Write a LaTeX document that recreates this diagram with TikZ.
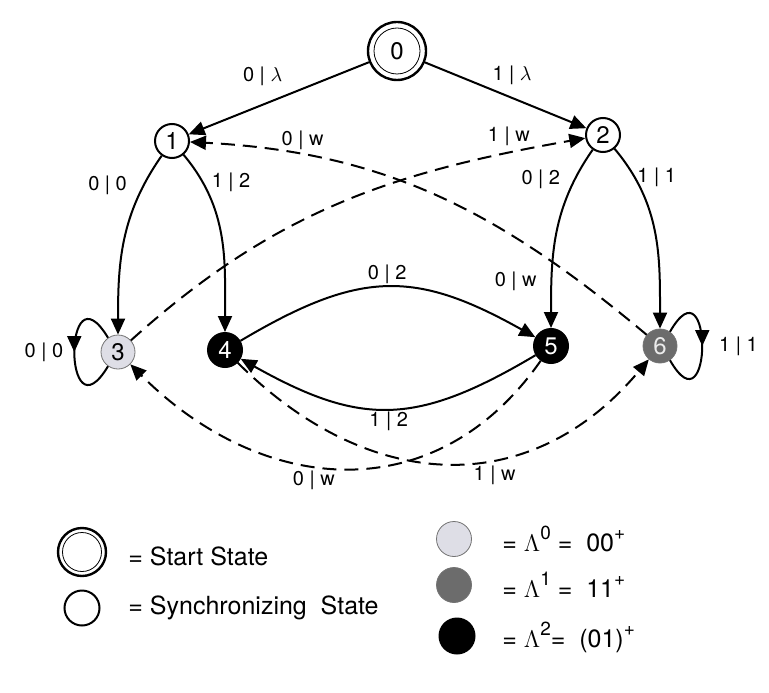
\documentclass[tikz,border=0pt]{standalone}
\usepackage{fontspec}
\setmainfont{TeX Gyre Heros}
\usetikzlibrary{arrows.meta, decorations.markings}
\definecolor{lamzero}{RGB}{222,222,230}
\definecolor{lamone}{RGB}{108,108,108}
\newcommand{\hisup}[1]{\raisebox{6pt}{\fontsize{9.5}{9.5}\selectfont #1}}

\begin{document}
\begin{tikzpicture}[
    x=0.5pt, y=0.5pt,
    syncstate/.style={circle, draw, line width=1pt, fill=white, minimum size=17pt,
                      inner sep=0pt, font=\fontsize{12}{12}\selectfont},
    startstate/.style={syncstate, line width=1.2pt, minimum size=29pt},
    grpzero/.style={syncstate, fill=lamzero, draw=black!55, line width=0.4pt},
    grpone/.style={syncstate, fill=lamone, draw=black!55, line width=0.4pt, text=black!8},
    grptwo/.style={syncstate, fill=black, text=white},
    trans/.style={-{Triangle[length=8pt, width=7pt]}, line width=1pt},
    wtrans/.style={trans, dash pattern=on 7pt off 4pt},
    selfloop/.style={line width=1pt, postaction={decorate},
        decoration={markings, mark=at position 0.5 with {\arrow{Triangle[length=8pt, width=7pt]}}}},
    lbl/.style={font=\fontsize{10}{10}\selectfont, inner sep=1pt},
    legtext/.style={anchor=west, inner sep=0pt, font=\fontsize{12.5}{14}\selectfont}
]
\useasboundingbox (0,0) rectangle (769,692);

% states
\node[startstate] (n0) at (397,641) {0};
\draw[line width=0.4pt] (n0) circle[radius=11.5pt];
\node[syncstate] (n1) at (172,551) {1};
\node[syncstate] (n2) at (603,557) {2};
\node[grpzero] (n3) at (118,340) {3};
\node[grptwo] (n4) at (225,342) {4};
\node[grptwo] (n5) at (551,346) {5};
\node[grpone] (n6) at (660,346) {6};

% synchronizing transitions
\draw[trans] (n0) -- (n1) node[lbl, pos=0.59, above=8pt] {0 | $\lambda$};
\draw[trans] (n0) -- (n2) node[lbl, pos=0.54, above=5pt] {1 | $\lambda$};
\draw[trans] (n1) to[out=235, in=90] node[lbl, pos=0.17, left=7pt] {0 | 0} (n3);
\draw[trans] (n1) to[out=-50, in=90] node[lbl, pos=0.17, right=3pt] {1 | 2} (n4);
\draw[trans] (n2) to[out=235, in=90] node[lbl, pos=0.17, left=6pt] {0 | 2}
    node[lbl, pos=0.765, left=6pt] {0 | w} (n5);
\draw[trans] (n2) to[out=-50, in=90] node[lbl, pos=0.17, right=0pt] {1 | 1} (n6);

% recurrent transitions
\draw[trans] (n4) to[bend left=30, looseness=1.2] node[lbl, above] {0 | 2} (n5);
\draw[trans] (n5) to[bend left=30, looseness=1.2] node[lbl, below] {1 | 2} (n4);
\draw[selfloop] (n3.125) .. controls +(-45,75) and +(-45,-75) .. (n3.235)
    node[lbl, pos=0.5, left=4pt] {0 | 0};
\draw[selfloop] (n6.55) .. controls +(43,75) and +(43,-75) .. (n6.-55)
    node[lbl, pos=0.5, right=7pt] {1 | 1};

% resynchronizing (w) transitions
\draw[wtrans] (n3) to[out=42, in=190] node[lbl, pos=0.86, above=2pt] {1 | w} (n2);
\draw[wtrans] (n6) to[out=140, in=-3] node[lbl, pos=0.79, above=1pt] {0 | w} (n1);
\draw[wtrans] (n5) to[out=235, in=-45, looseness=1.15]
    node[lbl, pos=0.57, below=1pt] {0 | w} (n3);
\draw[wtrans] (n4) to[out=-45, in=230, looseness=1.15]
    node[lbl, pos=0.61, below=2pt] {1 | w} (n6);

% legend
\node[startstate, minimum size=24pt] (legstart) at (82,140) {};
\draw[line width=0.4pt] (legstart) circle[radius=9.75pt];
\node[syncstate, minimum size=17.5pt] (legsync) at (82,84) {};
\node[grpzero, minimum size=17.5pt] (legzero) at (454,153) {};
\node[grpone, minimum size=17.5pt] (legone) at (454,107) {};
\node[grptwo, minimum size=17.5pt] (legtwo) at (457,56) {};
\node[legtext] (legstarttxt) at (128,136) {= Start State};
\node[legtext] (legsynctxt) at (128,84) {= Synchronizing\ \ State};
\node[legtext] (legzerotxt) at (502,153)
    {= $\Lambda$\hisup{0} = \ 00\hisup{+}};
\node[legtext] (legonetxt) at (502,107)
    {= $\Lambda$\hisup{1} = \ 11\hisup{+}};
\node[legtext] (legtwotxt) at (502,55)
    {= $\Lambda$\hisup{2}= \ (01)\hisup{+}};
\end{tikzpicture}
\end{document}
